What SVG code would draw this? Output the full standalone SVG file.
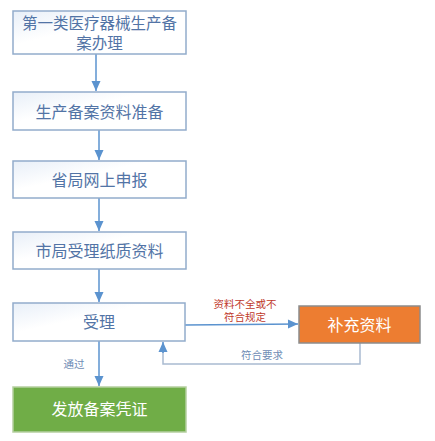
<svg xmlns="http://www.w3.org/2000/svg" width="435" height="441" viewBox="0 0 435 441">
<style>
.box{fill:url(#g);stroke:#92ACCB;stroke-width:1.5}
.t{font-family:"Noto Sans CJK SC","Noto Sans CJK JP",sans-serif;font-size:16px;text-anchor:middle;fill:#5274A6}
.w{fill:#ffffff}
.s{font-family:"Noto Sans CJK SC","Noto Sans CJK JP",sans-serif;font-size:10.5px;text-anchor:middle;fill:#6E8CB5}
.r{fill:#C0392B}
.c{fill:none;stroke:#5B93CF;stroke-width:1.5}
.c2{fill:none;stroke:#A9BBD1;stroke-width:1.5}
</style>
<defs>
<linearGradient id="g" x1="0" y1="0" x2="1" y2="1">
<stop offset="0" stop-color="#E8EFF8"/>
<stop offset="0.4" stop-color="#FFFFFF"/>
<stop offset="1" stop-color="#FFFFFF"/>
</linearGradient>
<marker id="ah" markerUnits="userSpaceOnUse" markerWidth="12" markerHeight="12" viewBox="0 0 12 12" refX="11" refY="6" orient="auto">
<path d="M1,1.5 L11,6 L1,10.5 Z" fill="#5B93CF"/>
</marker>
</defs>
<rect width="435" height="441" fill="#ffffff"/>
<g id="connectors">
<line class="c" x1="96" y1="54" x2="96" y2="91" marker-end="url(#ah)"/>
<line class="c" x1="99" y1="130" x2="99" y2="160" marker-end="url(#ah)"/>
<line class="c" x1="99" y1="198" x2="99" y2="231" marker-end="url(#ah)"/>
<line class="c" x1="99" y1="269" x2="99" y2="302" marker-end="url(#ah)"/>
<line class="c" x1="99" y1="341" x2="99" y2="386" marker-end="url(#ah)"/>
<line class="c" x1="185" y1="325" x2="298" y2="324" marker-end="url(#ah)"/>
<polyline class="c2" points="360,343 360,364 163,364 163,352"/>
<line class="c" x1="163" y1="353" x2="163" y2="342" marker-end="url(#ah)"/>
<text class="s" x="74" y="368">通过</text>
<text class="s r" x="245" y="307.5">资料不全或不</text>
<text class="s r" x="245" y="321">符合规定</text>
<text class="s" x="262" y="359">符合要求</text>
</g>
<g id="n1">
<rect class="box" x="13" y="11" width="173" height="43"/>
<text class="t" x="99.5" y="28.5" style="font-size:15.5px">第一类医疗器械生产备</text>
<text class="t" x="99.5" y="48.5" style="font-size:15.5px">案办理</text>
</g>
<g id="n2">
<rect class="box" x="13" y="92" width="173" height="38"/>
<text class="t" x="99.5" y="118">生产备案资料准备</text>
</g>
<g id="n3">
<rect class="box" x="13" y="161" width="173" height="37"/>
<text class="t" x="99.5" y="186">省局网上申报</text>
</g>
<g id="n4">
<rect class="box" x="13" y="232" width="173" height="37"/>
<text class="t" x="99.5" y="257">市局受理纸质资料</text>
</g>
<g id="n5">
<rect class="box" x="13" y="303" width="172" height="38"/>
<text class="t" x="99" y="328">受理</text>
</g>
<g id="n6">
<rect x="13" y="387" width="173" height="45" fill="#70AD47" stroke="#B5CFA0" stroke-width="1.5"/>
<text class="t w" x="99.5" y="415">发放备案凭证</text>
</g>
<g id="n7">
<rect x="299" y="306" width="121" height="37" fill="#ED7D31" stroke="#8C8C8C" stroke-width="1.5"/>
<text class="t w" x="359.5" y="331">补充资料</text>
</g>
</svg>
